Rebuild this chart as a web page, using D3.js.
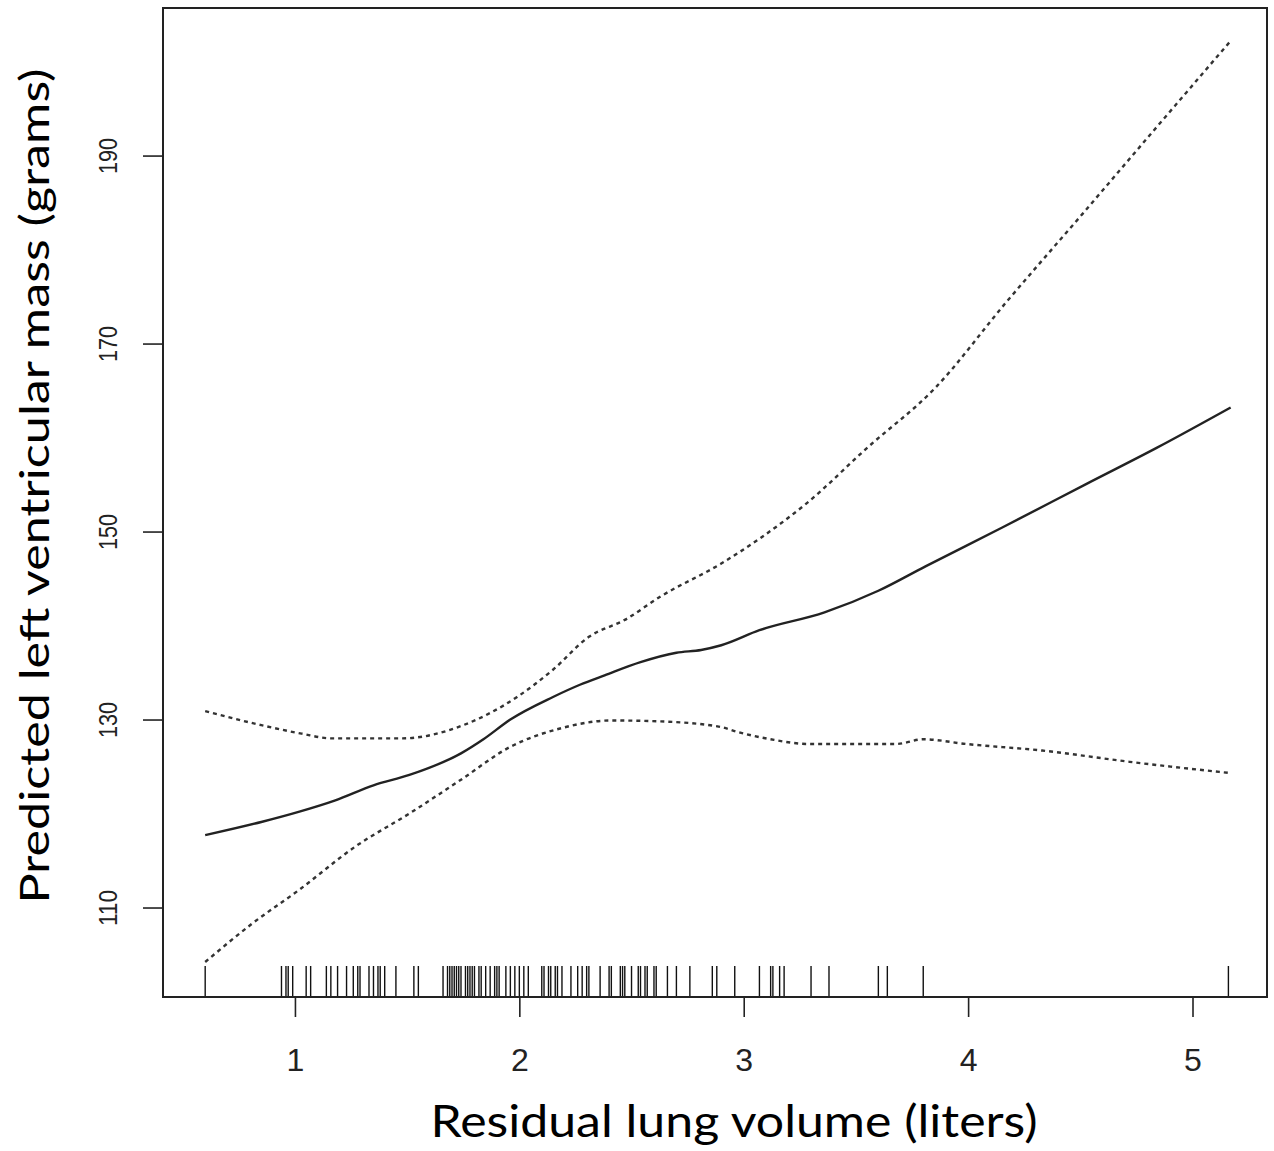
<!DOCTYPE html>
<html>
<head>
<meta charset="utf-8">
<script src="https://d3js.org/d3.v7.min.js"></script>
<style>
body { margin: 0; background: #fff; }
svg { display: block; }
.axis path { display: none; }
.axis line { stroke: #222; stroke-width: 1.6; }
.axis text { font-family: "Liberation Sans", Arial, sans-serif; fill: #222; }
.title { font-family: Lato, "Open Sans", sans-serif; fill: #000; }
.fit { fill: none; stroke: #222; stroke-width: 2.4; }
.band { fill: none; stroke: #333; stroke-width: 2.4; stroke-dasharray: 4,4; }
.rug { stroke: #111; stroke-width: 1.4; }
.frame { fill: none; stroke: #222; stroke-width: 2; }
</style>
</head>
<body>
<svg width="1274" height="1151"></svg>
<script>
// fitted curve
var fitX = [0.60, 0.85, 1.02, 1.18, 1.35, 1.51, 1.74, 1.84, 1.96, 2.15, 2.27, 2.38, 2.54, 2.70, 2.81, 2.90, 3.07, 3.36, 3.60, 3.81, 4.15, 4.53, 4.84, 5.17];
var fitY = [117.7, 119.1, 120.2, 121.4, 123.0, 124.1, 126.4, 127.9, 130.0, 132.4, 133.7, 134.7, 136.1, 137.1, 137.4, 137.9, 139.5, 141.4, 143.7, 146.3, 150.4, 155.1, 158.9, 163.2];

// upper confidence limit
var upperX = [0.60, 0.85, 1.03, 1.16, 1.48, 1.75, 1.99, 2.15, 2.31, 2.47, 2.63, 2.90, 3.08, 3.28, 3.55, 3.85, 4.17, 4.51, 4.85, 5.17];
var upperY = [130.9, 129.4, 128.5, 128.0, 128.0, 129.4, 132.4, 135.3, 138.8, 140.6, 143.1, 146.6, 149.4, 153.0, 158.9, 165.2, 174.4, 183.8, 193.3, 202.2];

// lower confidence limit
var lowerX = [0.60, 0.81, 1.02, 1.27, 1.51, 1.74, 1.96, 2.19, 2.41, 2.63, 2.90, 2.97, 3.12, 3.29, 3.68, 3.80, 3.99, 4.33, 4.72, 5.17];
var lowerY = [104.2, 108.3, 111.9, 116.5, 120.0, 123.6, 127.1, 129.1, 129.9, 129.8, 129.2, 128.7, 127.9, 127.4, 127.4, 127.9, 127.4, 126.7, 125.5, 124.3];

// observed residual lung volumes (rug)
var rugX = [0.60, 0.94, 0.96, 0.97, 0.99, 1.05, 1.07, 1.14, 1.16, 1.19, 1.23, 1.26, 1.28, 1.29,
  1.33, 1.35, 1.37, 1.38, 1.40, 1.45, 1.53, 1.55, 1.66, 1.68, 1.69, 1.70, 1.71, 1.72, 1.73,
  1.74, 1.76, 1.77, 1.78, 1.79, 1.80, 1.82, 1.83, 1.85, 1.87, 1.89, 1.90, 1.91, 1.94, 1.96,
  1.98, 2.00, 2.02, 2.04, 2.10, 2.11, 2.13, 2.14, 2.16, 2.17, 2.19, 2.23, 2.26, 2.28, 2.30,
  2.31, 2.36, 2.40, 2.41, 2.45, 2.46, 2.47, 2.50, 2.53, 2.54, 2.56, 2.57, 2.60, 2.61, 2.66,
  2.70, 2.76, 2.86, 2.88, 2.96, 3.07, 3.12, 3.13, 3.16, 3.18, 3.30, 3.38, 3.60, 3.64, 3.80, 5.16];

var xTicks = [1, 2, 3, 4, 5];
var yTicks = [110, 130, 150, 170, 190];

var svg = d3.select("svg"),
    plotLeft = 163, plotRight = 1267, plotTop = 8, plotBottom = 997;

var x = d3.scaleLinear()
    .domain([0.412, 5.332])
    .range([plotLeft, plotRight]);

var y = d3.scaleLinear()
    .domain([100.48, 205.7])
    .range([plotBottom, plotTop]);

var line = d3.line()
    .x(function(d) { return x(d[0]); })
    .y(function(d) { return y(d[1]); })
    .curve(d3.curveMonotoneX);

// x axis
var gx = svg.append("g")
    .attr("class", "axis")
    .attr("transform", "translate(0," + plotBottom + ")")
    .call(d3.axisBottom(x).tickValues(xTicks).tickSize(20).tickFormat(d3.format("d")));

gx.selectAll(".tick text")
    .attr("y", 63)
    .attr("dy", "0.35em")
    .style("font-size", "32px");

// y axis, labels turned like R does
var gy = svg.append("g")
    .attr("class", "axis")
    .attr("transform", "translate(" + plotLeft + ",0)")
    .call(d3.axisLeft(y).tickValues(yTicks).tickSize(20).tickFormat(d3.format("d")));

gy.selectAll(".tick text")
    .attr("transform", "rotate(-90)")
    .attr("x", 0)
    .attr("y", -46)
    .attr("dy", "0")
    .attr("textLength", 36)
    .attr("lengthAdjust", "spacingAndGlyphs")
    .style("text-anchor", "middle")
    .style("font-size", "25px");

// rug
svg.append("g")
  .selectAll("line")
  .data(rugX)
  .enter().append("line")
    .attr("class", "rug")
    .attr("x1", function(d) { return x(d); })
    .attr("x2", function(d) { return x(d); })
    .attr("y1", plotBottom)
    .attr("y2", plotBottom - 31);

// curves
svg.append("path")
    .datum(d3.zip(upperX, upperY))
    .attr("class", "band")
    .attr("d", line);

svg.append("path")
    .datum(d3.zip(lowerX, lowerY))
    .attr("class", "band")
    .attr("d", line);

svg.append("path")
    .datum(d3.zip(fitX, fitY))
    .attr("class", "fit")
    .attr("d", line);

// box
svg.append("rect")
    .attr("class", "frame")
    .attr("x", plotLeft)
    .attr("y", plotTop)
    .attr("width", plotRight - plotLeft)
    .attr("height", plotBottom - plotTop);

// titles
svg.append("text")
    .attr("class", "title")
    .attr("x", 734)
    .attr("y", 1137)
    .attr("text-anchor", "middle")
    .attr("textLength", 607)
    .attr("lengthAdjust", "spacingAndGlyphs")
    .style("font-size", "44px")
    .text("Residual lung volume (liters)");

svg.append("text")
    .attr("class", "title")
    .attr("transform", "translate(49,486) rotate(-90)")
    .attr("text-anchor", "middle")
    .attr("textLength", 835)
    .attr("lengthAdjust", "spacingAndGlyphs")
    .style("font-size", "40px")
    .text("Predicted left ventricular mass (grams)");
</script>
</body>
</html>
